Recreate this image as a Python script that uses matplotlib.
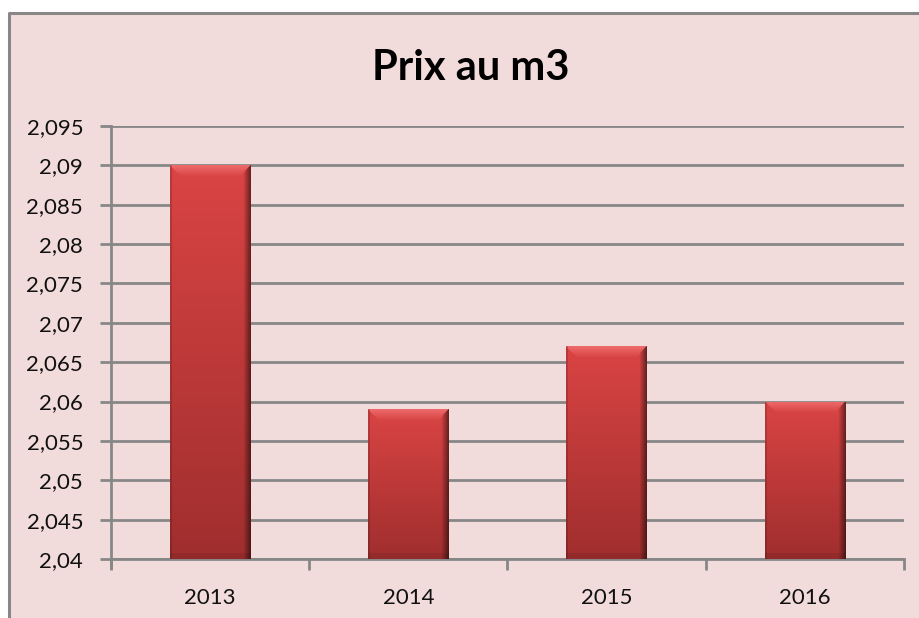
import numpy as np
import matplotlib
matplotlib.use("Agg")
import matplotlib.pyplot as plt
from matplotlib.lines import Line2D

years = ["2013", "2014", "2015", "2016"]
prices = [2.090, 2.059, 2.067, 2.060]
yticks = [2.04, 2.045, 2.05, 2.055, 2.06, 2.065, 2.07, 2.075, 2.08, 2.085, 2.09, 2.095]
ytick_labels = ["2,04", "2,045", "2,05", "2,055", "2,06", "2,065", "2,07",
                "2,075", "2,08", "2,085", "2,09", "2,095"]

bg = "#F2DCDB"
grid_col = "#878787"
plt.rcParams["font.family"] = ["Lato", "DejaVu Sans"]

fig = plt.figure(figsize=(9.19, 6.18), dpi=100)
W, H = 919, 618

# chart area border (only left and top visible in the crop)
fig.patches.append(plt.Rectangle((8 / W, 0), 1, 1 - 13 / H, transform=fig.transFigure,
                                 facecolor=bg, edgecolor="none", zorder=-2))
fig.lines.append(Line2D([8.5 / W, 8.5 / W, 1], [0, 1 - 13 / H, 1 - 13 / H],
                        transform=fig.transFigure, color=grid_col, lw=2.2, zorder=-1))

ax = fig.add_axes([111 / W, 1 - 559 / H, 793 / W, 433 / H])
ax.set_facecolor("none")

x = np.arange(len(years))
ymin, ymax = 2.04, 2.095
bars = ax.bar(x, [p - ymin for p in prices], bottom=ymin, width=0.405,
              color="none", edgecolor="none", zorder=3)


def bar_image(h_px, w_px):
    # vertical gradient, light at top -> darker at bottom
    t = np.linspace(0, 1, h_px)[:, None]
    top = np.array([218, 68, 68]) / 255
    bot = np.array([160, 46, 46]) / 255
    img = top[None, None, :] * (1 - t[..., None]) + bot[None, None, :] * t[..., None]
    img = np.repeat(img, w_px, axis=1)
    b = 11
    # top bevel (lighter), trapezoid shape
    light = np.array([240, 110, 110]) / 255
    for i in range(min(b, h_px)):
        a = 0.9 * (1 - i / b)
        img[i, i:w_px - i] = light * a + img[i, i:w_px - i] * (1 - a)
    # left edge a bit darker, right edge dark shadow
    img[:, :2] = img[:, :2] * 0.85
    for j in range(7):
        f = 0.5 + 0.07 * j
        img[j:, w_px - 1 - j] = img[j:, w_px - 1 - j] * f
    # bottom bevel darker
    img[-6:, :] = img[-6:, :] * 0.92
    return np.clip(img, 0, 1)


px_per_unit = 433 / (ymax - ymin)
for rect, p in zip(bars, prices):
    h_px = max(int(round((p - ymin) * px_per_unit)), 2)
    img = bar_image(h_px, 80)
    x0 = rect.get_x()
    im = ax.imshow(img, extent=(x0, x0 + rect.get_width(), ymin, p),
                   aspect="auto", zorder=3, interpolation="bilinear")
    im.set_clip_path(rect)

ax.set_xlim(-0.5, len(years) - 0.5)
ax.set_ylim(ymin, ymax)
ax.set_yticks(yticks)
ax.set_yticklabels(ytick_labels, fontsize=16, color="#111111")
ax.set_xticks(x)
ax.set_xticklabels(years, fontsize=16, color="#111111")
ax.set_xticks(np.arange(-0.5, len(years)), minor=True)

ax.grid(axis="y", color=grid_col, lw=2, zorder=1)
ax.set_axisbelow(True)
for s in ["top", "right"]:
    ax.spines[s].set_visible(False)
for s in ["left", "bottom"]:
    ax.spines[s].set_color(grid_col)
    ax.spines[s].set_linewidth(2)
ax.spines["left"].set_bounds(ymin - 0.001, ymax)

ax.tick_params(axis="y", length=8, width=2, color=grid_col, pad=12)
ax.tick_params(axis="x", which="major", length=0, pad=21)
ax.tick_params(axis="x", which="minor", length=8, width=2, color=grid_col)

fig.text(471 / W, 1 - 68 / H, "Prix au m3", ha="center", va="center",
         fontsize=30, fontweight="bold", color="black")

fig.savefig("out.png", dpi=100, facecolor="white")
